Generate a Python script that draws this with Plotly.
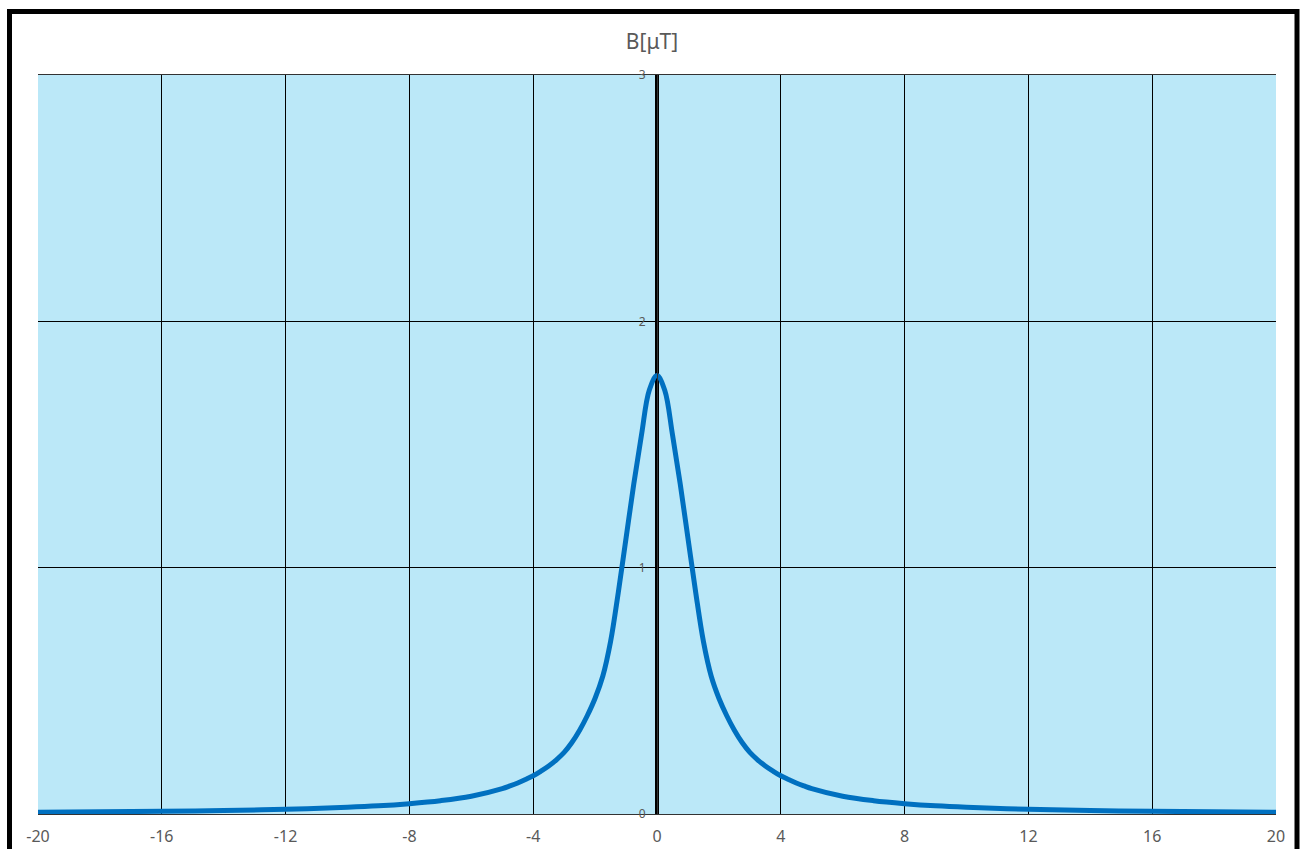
import plotly.graph_objects as go

# Data (right half; the curve is symmetric)
x_pos = [0, 0.25, 0.5, 0.75, 1.0, 1.25, 1.5, 1.75, 2.0, 2.25, 2.5, 2.75, 3.0,
         3.25, 3.5, 3.75, 4.0, 4.25, 4.5, 4.75, 5.0, 6.0, 7.0, 8.0, 9.0, 10.0,
         12.0, 14.0, 16.0, 18.0, 20.0]
b_pos = [1.78, 1.72, 1.54, 1.34, 1.12, 0.90, 0.70, 0.56, 0.47, 0.40, 0.34, 0.29, 0.25,
         0.22, 0.195, 0.174, 0.155, 0.14, 0.126, 0.114, 0.103, 0.072, 0.054, 0.042, 0.033, 0.027,
         0.019, 0.014, 0.011, 0.009, 0.007]

x_vals = [-v for v in x_pos[:0:-1]] + x_pos
b_vals = b_pos[:0:-1] + b_pos

x_ticks = [-20, -16, -12, -8, -4, 0, 4, 8, 12, 16, 20]
x_tick_labels = ["-20", "-16", "-12", "-8", "-4", "0", "4", "8", "12", "16", "20"]
y_ticks = [0, 1, 2, 3]
title_text = "B[μT]"

W, H = 1304, 849
ml, mr, mt, mb = 38, 28, 75, 35
pw, ph = W - ml - mr, H - mt - mb

fig = go.Figure()
fig.add_trace(go.Scatter(
    x=x_vals, y=b_vals, mode="lines",
    line=dict(color="#0070C0", width=5, shape="spline", smoothing=1.0),
    hoverinfo="skip", showlegend=False,
))

def px_to_paper_x(px):
    return (px - ml) / pw

def px_to_paper_y(py):
    return (H - mb - py) / ph

fig.update_layout(
    width=W, height=H,
    margin=dict(l=ml, r=mr, t=mt, b=mb, autoexpand=False),
    paper_bgcolor="white",
    plot_bgcolor="#BBE8F8",
    font=dict(family="Noto Sans, Open Sans, sans-serif", color="#595959"),
    title=dict(text=title_text, x=0.5, xanchor="center", y=1 - 42 / H, yanchor="middle",
               font=dict(size=21, color="#595959")),
    xaxis=dict(
        range=[-20, 20], tickmode="array", tickvals=x_ticks, ticktext=x_tick_labels,
        showgrid=True, gridcolor="black", gridwidth=1,
        zeroline=True, zerolinecolor="black", zerolinewidth=4,
        showline=True, linecolor="#333333", linewidth=1, mirror=True,
        ticks="outside", ticklen=8, tickcolor="rgba(0,0,0,0)",
        tickfont=dict(size=16, color="#595959"),
        automargin=False,
    ),
    yaxis=dict(
        range=[0, 3], tickmode="array", tickvals=y_ticks,
        showgrid=True, gridcolor="black", gridwidth=1,
        zeroline=True, zerolinecolor="black", zerolinewidth=3,
        showline=True, linecolor="#333333", linewidth=1, mirror=True,
        anchor="free", position=0.5,
        ticks="outside", ticklen=9, tickcolor="rgba(0,0,0,0)",
        tickfont=dict(size=12, color="#595959"),
        automargin=False,
    ),
    shapes=[
        dict(type="rect", xref="paper", yref="paper",
             x0=px_to_paper_x(9.5), x1=px_to_paper_x(1297),
             y0=px_to_paper_y(880), y1=px_to_paper_y(11.5),
             line=dict(color="black", width=5), fillcolor="rgba(0,0,0,0)", layer="above"),
    ],
)

fig.write_html("out.html", config={"displayModeBar": False},
               post_script="document.body.style.margin='0px';document.body.style.overflow='hidden';")
